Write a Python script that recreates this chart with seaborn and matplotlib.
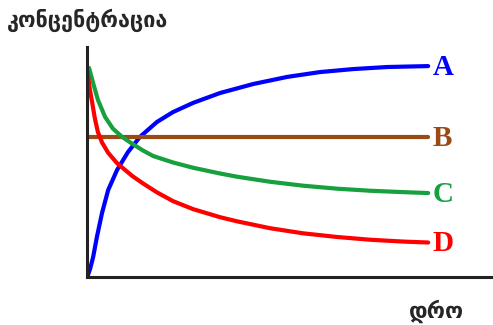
import pandas as pd
import matplotlib.pyplot as plt
import seaborn as sns

# values (time, concentration)
t_a = [0.02, 0.09, 0.18, 0.29, 0.44, 0.62, 0.88, 1.20, 1.55, 2.05, 2.52, 3.11,
       3.90, 4.87, 5.87, 6.83, 7.80, 8.80, 10.0]
c_a = [0.05, 0.35, 0.87, 1.74, 2.78, 3.78, 4.65, 5.43, 6.09, 6.74, 7.17, 7.57,
       8.00, 8.39, 8.70, 8.91, 9.04, 9.13, 9.17]

t_b = [0.06, 10.0]
c_b = [6.09, 6.09]

t_c = [0.06, 0.18, 0.32, 0.53, 0.76, 1.03, 1.32, 1.64, 1.94, 2.52, 3.11, 3.90,
       4.40, 5.37, 6.33, 7.33, 8.30, 9.27, 10.0]
c_c = [9.09, 8.43, 7.70, 6.96, 6.45, 6.09, 5.80, 5.50, 5.26, 4.98, 4.75, 4.50,
       4.36, 4.14, 3.97, 3.84, 3.75, 3.69, 3.65]

t_d = [0.0, 0.09, 0.15, 0.23, 0.32, 0.44, 0.62, 0.88, 1.32, 1.64, 2.05, 2.52,
       3.11, 3.90, 4.40, 5.37, 6.33, 7.33, 8.30, 9.27, 10.0]
c_d = [9.0, 8.1, 7.6, 6.9, 6.3, 5.85, 5.4, 4.95, 4.4, 4.07, 3.68, 3.3,
       2.95, 2.6, 2.42, 2.12, 1.9, 1.74, 1.62, 1.54, 1.5]

series = ['A', 'B', 'C', 'D']
colors = ['#0000ff', '#9a4a14', '#17a03e', '#ff0000']

frames = []
for name, t, c in zip(series, [t_a, t_b, t_c, t_d], [c_a, c_b, c_c, c_d]):
    frames.append(pd.DataFrame({'t': t, 'c': c, 'series': name}))
df = pd.concat(frames, ignore_index=True)

sns.set_style('white')
fig = plt.figure(figsize=(4.93, 3.25), dpi=100)
ax = fig.add_axes([87 / 493, 48 / 325, 406 / 493, 230 / 325])

sns.lineplot(data=df, x='t', y='c', hue='series', palette=dict(zip(series, colors)),
             estimator=None, sort=False, linewidth=3, legend=False, ax=ax)

ax.set_xlim(0, 11.9)
ax.set_ylim(0, 10)
ax.set_xticks([])
ax.set_yticks([])
ax.set_xlabel('')
ax.set_ylabel('')
sns.despine(ax=ax)
for side in ['left', 'bottom']:
    ax.spines[side].set_linewidth(2.2)
    ax.spines[side].set_color('#222222')

# series letters at the end of each curve
for name, c, col in zip(series, [c_a[-1], c_b[-1], c_c[-1], c_d[-1]], colors):
    ax.annotate(name, xy=(10.0, c), xytext=(3, -1), textcoords='offset points',
                ha='left', va='center', color=col, fontsize=21, fontweight='bold',
                family='Liberation Serif')

fig.text(7 / 493, 1 - 20 / 325, 'კონცენტრაცია', ha='left', va='center',
         fontsize=15.5, fontweight='bold', family='DejaVu Sans')
fig.text(437 / 493, 1 - 311 / 325, 'დრო', ha='center', va='center',
         fontsize=16, fontweight='bold', family='DejaVu Sans')

fig.savefig('out.png', dpi=100)
